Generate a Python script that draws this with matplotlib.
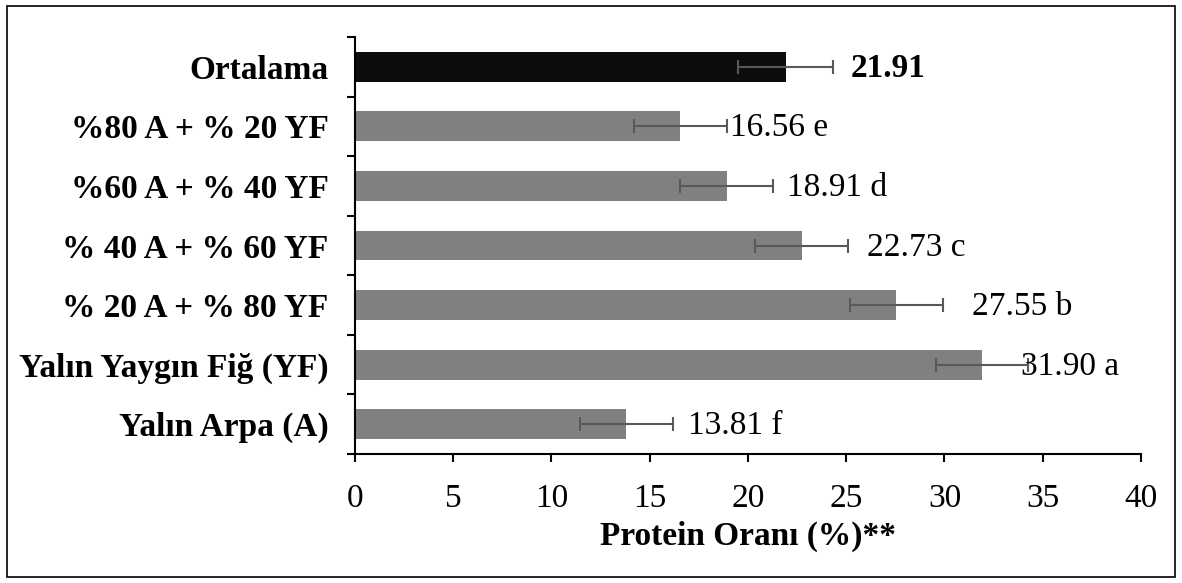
import numpy as np
import matplotlib.pyplot as plt
from matplotlib.patches import Rectangle

plt.rcParams['font.family'] = ['Liberation Serif', 'DejaVu Serif']

categories = ["Yalın Arpa (A)", "Yalın Yaygın Fiğ (YF)", "% 20 A + % 80 YF",
              "% 40 A + % 60 YF", "%60 A + % 40 YF", "%80 A + % 20 YF", "Ortalama"]
values = [13.81, 31.90, 27.55, 22.73, 18.91, 16.56, 21.91]
errors = [2.35, 2.35, 2.35, 2.35, 2.35, 2.35, 2.4]
letters = ["f", "a", "b", "c", "d", "e", ""]
# where each value label starts (data units)
label_x = [16.95, 33.9, 31.4, 26.05, 22.0, 19.1, 25.2]

colors = ["#808080"] * 6 + ["#0d0d0d"]
fs = 24

fig = plt.figure(figsize=(11.82, 5.83), dpi=100)
ax = fig.add_axes([0.3003, 0.2213, 0.6650, 0.7152])

y = np.arange(len(categories))
ax.barh(y, values, height=0.5, color=colors, zorder=2)
ax.errorbar(values, y, xerr=errors, fmt="none", ecolor="#595959",
            elinewidth=1.5, capsize=5, capthick=1.5, zorder=3)

for i, (v, lt) in enumerate(zip(values, letters)):
    if lt:
        ax.text(label_x[i], y[i] - 0.03, f"{v:.2f} {lt}", va="center", ha="left", fontsize=fs)
    else:
        ax.text(label_x[i], y[i] - 0.03, f"{v:.2f}", va="center", ha="left",
                fontsize=fs, fontweight="bold")

ax.set_xlim(0, 40)
ax.set_ylim(-0.5, len(categories) - 0.5)
ax.set_xticks(np.arange(0, 41, 5))
ax.tick_params(axis="x", labelsize=fs, length=6, width=1.5, direction="out", pad=15)

ax.set_yticks(y)
ax.set_yticklabels(categories, fontsize=fs, fontweight="bold")
ax.tick_params(axis="y", which="major", length=0, pad=19)
ax.set_yticks(np.arange(-0.5, len(categories)), minor=True)
ax.tick_params(axis="y", which="minor", length=6, width=1.5, direction="out")

for side in ["top", "right"]:
    ax.spines[side].set_visible(False)
for side in ["left", "bottom"]:
    ax.spines[side].set_linewidth(1.5)

ax.set_xlabel("Protein Oranı (%)**", fontsize=fs, fontweight="bold", labelpad=5)

fig.patches.append(Rectangle((7 / 1182, 6 / 583), 1168 / 1182, 571 / 583,
                             transform=fig.transFigure, fill=False,
                             edgecolor="black", linewidth=1.2))

fig.savefig("out.png", dpi=100)
